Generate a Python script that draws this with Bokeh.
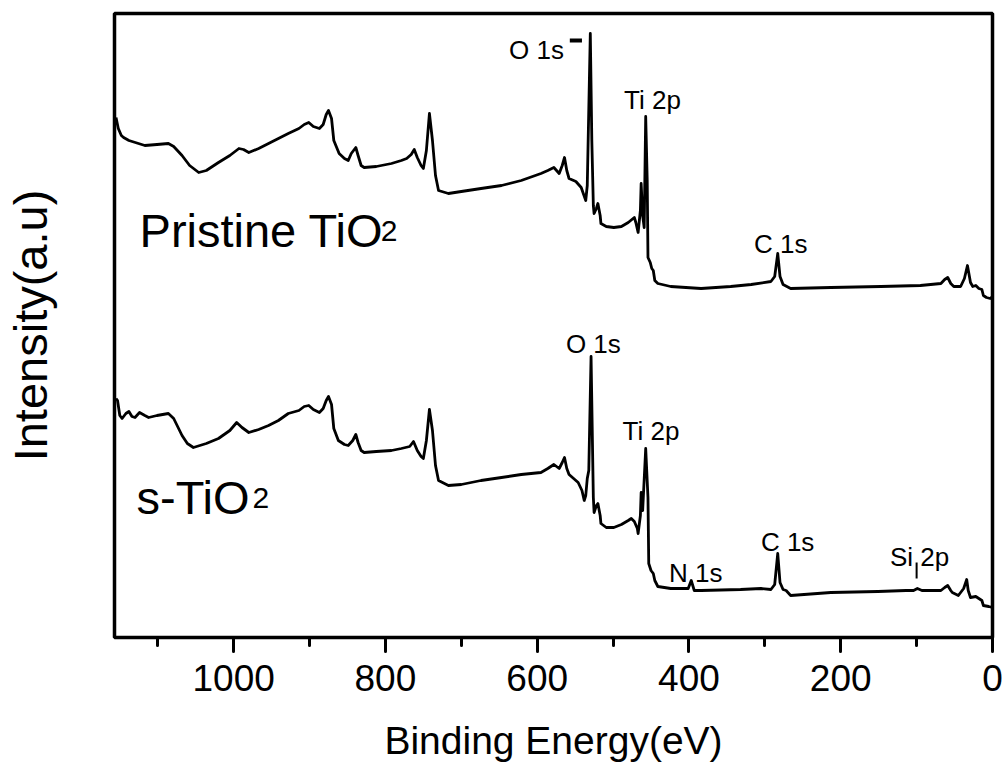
from bokeh.plotting import figure
from bokeh.models import Range1d, SingleIntervalTicker, FixedTicker
from bokeh.core.properties import value
from bokeh.embed import file_html
from bokeh.resources import INLINE

FONT = "Liberation Sans"

# XPS survey spectra: binding energy (eV) and stacked intensity (a.u.)
be_pristine = [1155, 1152, 1148, 1145, 1138, 1117, 1101, 1086, 1079, 1068, 1058, 1046, 1036,
               1020, 1005, 993, 987, 980, 967, 954, 941, 928, 914, 907, 901, 895, 887, 882,
               878, 875, 871, 868, 861, 854, 849, 845, 839, 836, 832, 828, 812, 792, 779,
               772, 766, 762, 758, 753, 750, 746, 742, 738, 734, 730, 717, 700, 674, 647,
               621, 595, 586, 578, 571, 567, 564, 561, 558, 549, 542, 536, 534, 530, 528,
               526, 525, 522, 520, 517, 516, 509, 499, 489, 480, 472, 470, 467, 464, 463,
               461, 459, 457, 455, 454, 451, 449, 447, 445, 441, 424, 384, 345, 318, 292,
               287, 283, 280, 276, 266, 213, 147, 95, 68, 63, 59, 55, 51, 42, 37, 33, 29,
               26, 22, 18, 14, 12, 8, 3, 0]
int_pristine = [523, 512, 505, 503, 500, 495, 496, 497, 494, 485, 475, 468, 470,
                478, 485, 492, 491, 488, 492, 497, 502, 507, 512, 516, 518, 514, 512, 516,
                526, 530, 522, 500, 487, 482, 480, 487, 493, 485, 475, 473, 474, 477, 480,
                482, 486, 491, 483, 475, 472, 490, 527, 500, 465, 450, 447, 449, 452, 455,
                460, 467, 470, 473, 467, 475, 483, 470, 462, 459, 453, 440, 455, 607, 500,
                435, 427, 432, 437, 425, 417, 414, 413, 414, 418, 423, 418, 408, 430, 457,
                425, 413, 524, 460, 383, 378, 372, 370, 360, 357, 354, 352, 354, 356, 359,
                364, 387, 364, 356, 352, 353, 354, 355, 357, 361, 363, 357, 354, 354, 362, 375, 358,
                354, 355, 352, 351, 345, 343, 342, 344]

be_s = [1155, 1153, 1150, 1147, 1142, 1138, 1134, 1130, 1124, 1117, 1112, 1101, 1086, 1079,
        1068, 1061, 1053, 1036, 1020, 1005, 996, 989, 980, 967, 954, 941, 928, 914, 907,
        901, 895, 887, 882, 878, 875, 871, 868, 862, 854, 849, 843, 839, 836, 832, 828,
        812, 792, 779, 768, 763, 758, 753, 750, 746, 742, 738, 734, 730, 717, 700, 674,
        647, 621, 595, 586, 578, 571, 567, 564, 561, 558, 546, 541, 538, 536, 534, 532,
        529, 526, 525, 522, 520, 517, 516, 509, 499, 489, 480, 476, 472, 468, 467, 464,
        463, 461, 457, 454, 453, 450, 447, 445, 441, 424, 401, 397, 393, 384, 332, 305,
        292, 287, 283, 280, 276, 272, 266, 213, 151, 114, 104, 99, 93, 68, 63, 59, 55,
        53, 45, 38, 34, 32, 29, 22, 18, 14, 12, 5, 0]
int_s = [242, 240, 225, 222, 227, 229, 224, 223, 228, 225, 223, 225, 227, 222,
         205, 197, 193, 197, 202, 210, 218, 213, 208, 211, 215, 220, 227, 230, 234,
         235, 231, 228, 232, 240, 244, 236, 212, 200, 196, 195, 200, 206, 198, 190, 188,
         189, 190, 192, 194, 199, 190, 184, 182, 200, 231, 210, 175, 160, 155, 156, 160,
         163, 166, 168, 172, 176, 172, 178, 183, 172, 166, 158, 150, 140, 145, 162, 170,
         284, 143, 128, 135, 137, 125, 117, 113, 113, 116, 120, 122, 119, 112, 107, 125,
         148, 130, 192, 143, 77, 70, 67, 60, 54, 52, 52, 60, 50, 50, 51, 52,
         51, 56, 87, 58, 51, 50, 45, 48, 49, 50, 50, 52, 50, 50, 53, 55, 50,
         48, 45, 52, 61, 50, 43, 44, 42, 40, 35, 34, 33]

# Peak assignments
peak_text = ["O 1s", "Ti 2p", "C 1s", "O 1s", "Ti 2p", "N 1s", "C 1s", "Si 2p"]
peak_x = [601, 448, 279, 526, 450, 391, 270, 96]
peak_y = [591, 541, 397, 297, 210, 68, 99, 84]

# Sample names (formula body + subscript)
sample_text = ["Pristine TiO", "s-TiO"]
sample_x = [1124, 1128]
sample_y = [410, 143]
sub_x = [806, 975]

p = figure(width=1008, height=767, x_range=Range1d(1157, 0), y_range=Range1d(3, 627),
           output_backend="svg", toolbar_location=None,
           min_border_left=113, min_border_right=16, min_border_top=13, min_border_bottom=130)

p.background_fill_color = "white"
p.border_fill_color = "white"
p.xgrid.grid_line_color = None
p.ygrid.grid_line_color = None
p.outline_line_color = "black"
p.outline_line_width = 3.5
p.outline_line_alpha = 1.0

xa = p.xaxis[0]
xa.ticker = SingleIntervalTicker(interval=200, num_minor_ticks=2)
xa.axis_line_color = None
xa.major_tick_line_width = 3
xa.major_tick_line_cap = "round"
xa.major_tick_in = 0
xa.major_tick_out = 14
xa.minor_tick_line_width = 3
xa.minor_tick_line_cap = "round"
xa.minor_tick_in = 0
xa.minor_tick_out = 8
xa.major_label_text_font = FONT
xa.major_label_text_font_size = "37px"
xa.major_label_text_color = "black"
xa.major_label_standoff = 13
xa.axis_label = "Binding Energy(eV)"
xa.axis_label_text_font = FONT
xa.axis_label_text_font_size = "39px"
xa.axis_label_text_font_style = "normal"
xa.axis_label_text_color = "black"
xa.axis_label_standoff = 25

ya = p.yaxis[0]
ya.ticker = FixedTicker(ticks=[])
ya.axis_line_color = None
ya.major_tick_line_color = None
ya.minor_tick_line_color = None
ya.major_label_text_font_size = "0px"
ya.axis_label = "Intensity(a.u)"
ya.axis_label_text_font = FONT
ya.axis_label_text_font_size = "47px"
ya.axis_label_text_font_style = "normal"
ya.axis_label_text_color = "black"
ya.axis_label_standoff = 58

p.line(be_pristine, int_pristine, line_color="black", line_width=2.8, line_join="round")
p.line(be_s, int_s, line_color="black", line_width=2.8, line_join="round")

p.text(x=peak_x, y=peak_y, text=peak_text, text_font=value(FONT), text_font_size="26px",
       text_align="center", text_baseline="alphabetic", text_color="black")

# marker next to the O 1s label and the Si 2p tick
p.segment(x0=[557], y0=[600], x1=[541], y1=[600], line_color="black", line_width=4)
p.segment(x0=[100], y0=[62], x1=[100], y1=[78], line_color="black", line_width=2)

p.text(x=sample_x, y=sample_y, text=sample_text, text_font=value(FONT), text_font_size="47px",
       text_align="left", text_baseline="alphabetic", text_color="black")
p.text(x=sub_x, y=sample_y, text=["2", "2"], text_font=value(FONT), text_font_size="30px",
       text_align="left", text_baseline="alphabetic", text_color="black")

open("out.html", "w").write(file_html(p, INLINE))
